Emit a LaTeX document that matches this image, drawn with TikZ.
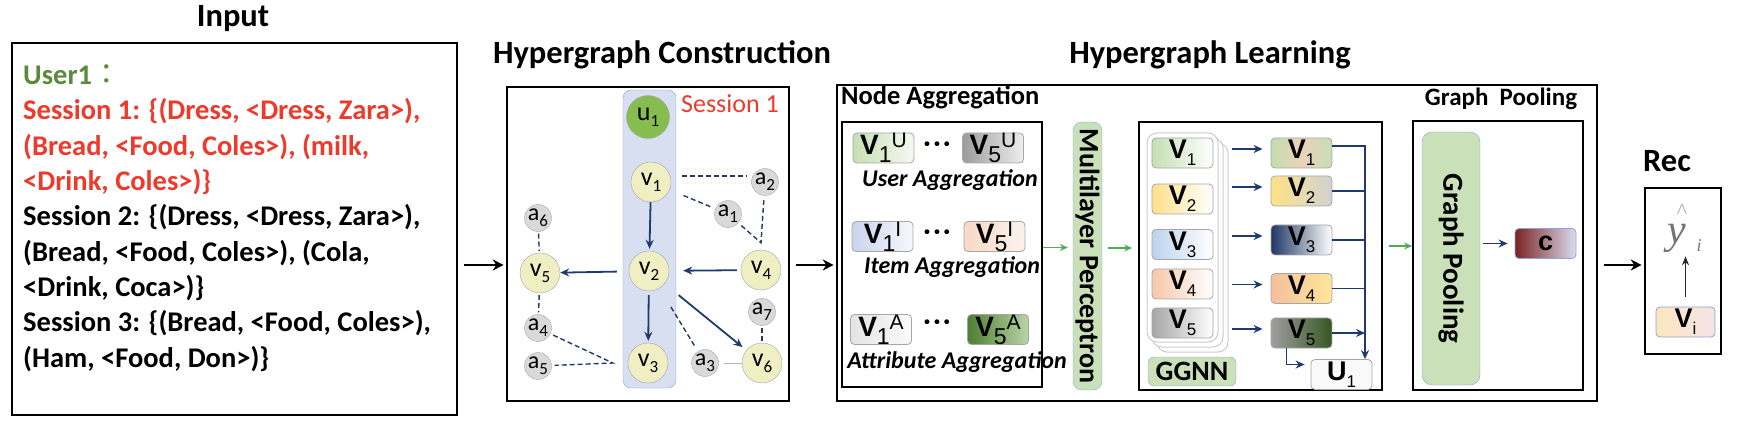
\documentclass[tikz,border=0pt]{standalone}
\usepackage{fontspec}
\setmainfont{Carlito}
\newfontfamily\chipfont{Liberation Sans}
\newfontfamily\serifit{Liberation Serif}
\newfontfamily\cjk{Noto Sans CJK TC}
\usetikzlibrary{arrows.meta, positioning}
\definecolor{navy}{HTML}{1F3A6E}
\definecolor{arrgreen}{HTML}{4DAF55}
\definecolor{sred}{HTML}{EC3A2D}
\definecolor{ugreen}{HTML}{5A8A3C}
\definecolor{ufill}{HTML}{86BC50}
\definecolor{mlpgreen}{HTML}{C9E0B8}
\definecolor{vfill}{HTML}{EFEFC3}
\definecolor{afill}{HTML}{D9D9D9}
\definecolor{sessblue}{HTML}{D7DFF1}
\definecolor{sessline}{HTML}{8FA6D0}
\newcommand{\px}[1]{\fontsize{#1}{#1}\selectfont}
\newcommand{\nlab}[2]{#1\raisebox{-6pt}{\px{17}#2}}
\newcommand{\vlab}[2]{{\chipfont\px{28}\bfseries V}\raisebox{-8pt}{\chipfont\px{23}#1}\raisebox{7pt}{\chipfont\px{21}#2}}
\newcommand{\glab}[2]{{\chipfont\px{27}\bfseries #1}\raisebox{-7pt}{\chipfont\px{17}#2}}
\tikzset{
  bigbox/.style = {draw, line width=2.6pt, inner sep=0pt},
  subbox/.style = {draw, line width=1.8pt, inner sep=0pt},
  heading/.style = {font=\px{32.5}\bfseries, inner sep=0pt, anchor=base},
  vnode/.style = {circle, draw=gray!70, fill=vfill, minimum size=40pt,
    inner sep=0pt, font=\px{26}},
  anode/.style = {circle, draw=gray!70, fill=afill, minimum size=27pt,
    inner sep=0pt, font=\px{24}},
  chip/.style = {draw=gray!70, line width=0.8pt, rounded corners=4pt,
    minimum width=61pt, minimum height=30pt, inner sep=0pt},
  slab/.style = {draw=sessline, fill=mlpgreen, rounded corners=9pt, inner sep=0pt},
  nav/.style = {navy, line width=1.8pt, -{Stealth[length=9pt, width=8pt]}},
  dsh/.style = {navy, line width=1.4pt, dash pattern=on 5pt off 3pt},
  grn/.style = {arrgreen, line width=1.8pt, -{Stealth[length=8pt, width=7pt]}},
  blk/.style = {black, line width=2.6pt, -{Stealth[length=11pt, width=11pt]}}
}
\begin{document}
\begin{tikzpicture}[x=1pt, y=-1pt]
\useasboundingbox (0,0) rectangle (1740,430);

\node[heading] (tIn) at (233,27) {Input};
\node[heading] (tHc) at (662,64) {Hypergraph Construction};
\node[heading] (tHl) at (1210,64) {Hypergraph Learning};
\node[heading] (tRec) at (1667,172) {Rec};

\node[bigbox, minimum width=445pt, minimum height=372pt] (inBox) at (234.5,229) {};
\node[anchor=base west, align=left, inner sep=0pt,
  font=\fontsize{28.5}{35.3}\selectfont\bfseries] (inText) at (23,367)
  {\textcolor{ugreen}{User1{\cjk\mdseries ：}}\\
   \textcolor{sred}{Session 1: \{(Dress, <Dress, Zara>),}\\
   \textcolor{sred}{(Bread, <Food, Coles>), (milk,}\\
   \textcolor{sred}{<Drink, Coles>)\}}\\
   Session 2: \{(Dress, <Dress, Zara>),\\
   (Bread, <Food, Coles>), (Cola,\\
   <Drink, Coca>)\}\\
   Session 3: \{(Bread, <Food, Coles>),\\
   (Ham, <Food, Don>)\}};

\node[bigbox, minimum width=282pt, minimum height=314pt] (hcBox) at (648,244) {};
\node[draw=sessline, fill=sessblue, rounded corners=8pt, minimum width=53pt,
  minimum height=298pt] (sess) at (649.5,239) {};
\node[text=sred, font=\px{26}, anchor=base, inner sep=0pt] (sessLab) at (730,113) {Session 1};
\node[vnode, fill=ufill, minimum size=43pt] (u1) at (648,117) {\nlab{u}{1}};
\node[vnode] (v1) at (651,182) {\nlab{v}{1}};
\node[vnode] (v2) at (649,271) {\nlab{v}{2}};
\node[vnode] (v3) at (648,363) {\nlab{v}{3}};
\node[vnode] (v4) at (761,270) {\nlab{v}{4}};
\node[vnode] (v5) at (540,273) {\nlab{v}{5}};
\node[vnode] (v6) at (762,363) {\nlab{v}{6}};
\node[anode] (a1) at (728,214) {\nlab{a}{1}};
\node[anode] (a2) at (765,182) {\nlab{a}{2}};
\node[anode] (a3) at (705,363) {\nlab{a}{3}};
\node[anode] (a4) at (538,328) {\nlab{a}{4}};
\node[anode] (a5) at (538,366) {\nlab{a}{5}};
\node[anode] (a6) at (538,218) {\nlab{a}{6}};
\node[anode] (a7) at (762,312) {\nlab{a}{7}};
\draw[nav, shorten >=2pt] (v1) -- (v2);
\draw[nav, shorten <=4pt, shorten >=2pt] (v2) -- (v3);
\draw[nav, shorten <=4pt, shorten >=14pt] (v4) -- (v2);
\draw[nav, shorten <=12pt] (v2) -- (v5);
\draw[nav, shorten <=18pt, shorten >=5pt] (v2) -- (v6);
\draw[dsh, shorten <=22pt, shorten >=6pt] (v2) -- (a3);
\draw[dsh, shorten <=11pt, shorten >=5pt] ([yshift=6pt]v1.east) -- ([yshift=6pt]a2.west);
\draw[dsh, shorten <=15pt, shorten >=4pt] (v1) -- (a1);
\draw[dsh, shorten <=4pt, shorten >=2pt] (a1) -- ([yshift=7pt]v4.north) -- (a2);
\draw[dsh, shorten <=3pt, shorten >=3pt] (a4) -- ([xshift=-15pt]v3.west) -- (a5);
\draw[dsh, shorten <=2pt, shorten >=2pt] (a6) -- (v5);
\draw[dsh, shorten <=2pt, shorten >=2pt] (v5) -- (a4);
\draw[dsh, shorten <=2pt, shorten >=2pt] (a7) -- (v6);
\draw[gray!60, line width=0.6pt, shorten <=5pt] (a3) -- (v6);

\node[bigbox, minimum width=760pt, minimum height=316pt] (hlBox) at (1217,243) {};
\node[font=\px{26.5}\bfseries, anchor=base west, inner sep=0pt] (naLab) at (841,105) {Node Aggregation};
\node[subbox, minimum width=200pt, minimum height=265pt] (naBox) at (942,254.5) {};
\foreach \n/\x/\y/\s/\t/\l/\r in {
  uA/883.5/148/1/U/C6DFB4/F5F9F1, uB/993/148/5/U/9C9C9C/EEEEEE,
  iA/882.5/236.5/1/I/C8D4EE/F6F8FC, iB/994.5/236.5/5/I/F8D9C4/FBF3EE,
  tA/881/329.5/1/A/E4E4E4/FAFAFA, tB/998/329.5/5/A/4E7E32/B9D4A6}{
  \definecolor{lc}{HTML}{\l}\definecolor{rc}{HTML}{\r}
  \node[chip, left color=lc, right color=rc] (\n) at (\x,\y) {\vlab{\s}{\t}};
}
\foreach \y in {147,235,325}
  \node[font=\px{26}\bfseries] at (937,\y) {·\hspace{3pt}·\hspace{3pt}·};
\node[font=\px{24}\bfseries\itshape] (uAgg) at (950,180) {User Aggregation};
\node[font=\px{24}\bfseries\itshape] (iAgg) at (952,267) {Item Aggregation};
\node[font=\px{24}\bfseries\itshape] (aAgg) at (957,362) {Attribute Aggregation};

\node[slab, minimum width=29pt, minimum height=268pt] (mlp) at (1087.5,256) {};
\node[rotate=-90, font=\px{28}\bfseries, inner sep=0pt] (mlpLab) at (mlp) {Multilayer Perceptron};
\draw[grn, shorten >=5pt] ([yshift=7pt]naBox.east) -- ([yshift=7pt]naBox.east -| mlp.west);

\node[subbox, minimum width=243pt, minimum height=268pt] (ggBox) at (1260.5,256) {};
\draw[grn, shorten <=6pt, shorten >=6pt] ([yshift=8pt]mlp.east) -- ([yshift=8pt]mlp.east -| ggBox.west);
\foreach \d in {10,5,0}
  \node[draw=gray!40, fill=white, line width=1pt, rounded corners=10pt, minimum width=71pt,
    minimum height=209pt] (card\d) at ({1182.5+\d},{237.5+\d}) {};
\foreach \i/\y/\l in {1/153/C6DFB4, 2/199/FFE08A, 3/244.5/BDD2EC, 4/284/F6C8AA, 5/323/A6A6A6}{
  \definecolor{lc}{HTML}{\l}
  \node[chip, left color=lc, right color=white] (ggL\i) at (1182.5,\y) {\glab{V}{\i}};
}
\foreach \i/\y/\l/\m/\r in {1/153/C3DDAF/EAD2BA/C6DEB6, 2/191/FFE183/E8DCB0/D0D0D0,
  3/240/1F3864/8F9BB2/FFFFFF, 4/288.5/F4C09D/F9D39B/FFE699, 5/333/9E9E9E/6B7A60/375623}{
  \definecolor{lc}{HTML}{\l}\definecolor{mc}{HTML}{\m}\definecolor{rc}{HTML}{\r}
  \node[chip, left color=lc, right color=rc, middle color=mc] (ggR\i) at (1301.5,\y) {\glab{V}{\i}};
  \draw[nav, shorten <=19pt, shorten >=8pt] ([yshift=4pt]ggR\i.west -| ggL\i.east) -- ([yshift=4pt]ggR\i.west);
}
\node[slab, minimum width=88pt, minimum height=29pt, rounded corners=6pt,
  font=\px{28}\bfseries] (ggLab) at (1192,371.5) {GGNN};
\node[chip, fill=gray!5] (uvec) at (1341.5,374.5) {\glab{U}{1}};
\coordinate (bus) at (1365,146);
\draw[nav] ([yshift=7pt]ggR1.east) -| (bus |- uvec.north);
\foreach \i in {2,3,4}
  \draw[navy, line width=1.8pt] (ggR\i.east) -- (ggR\i.east -| bus);
\draw[nav] (ggR5.east) -- (ggR5.east -| bus);
\draw[nav, shorten >=6pt] ([xshift=-15pt]ggR5.south) |- ([yshift=10pt]uvec.west);

\node[subbox, minimum width=170pt, minimum height=269pt] (gpBox) at (1498,255.5) {};
\node[font=\px{25}\bfseries, anchor=base, inner sep=0pt] (gpTitle) at (1501,106) {Graph\ \ Pooling};
\draw[grn, shorten <=6pt] ([yshift=10pt]ggBox.east) -- ([yshift=10pt]ggBox.east -| gpBox.west);
\node[slab, minimum width=58pt, minimum height=253pt, rounded corners=10pt] (gpool) at (1451,258.5) {};
\node[rotate=-90, font=\px{29}\bfseries, inner sep=0pt] (gpLab) at (gpool) {Graph Pooling};
\definecolor{lc}{HTML}{7B2323}\definecolor{rc}{HTML}{D9DDF0}
\node[chip, draw=sessline, left color=lc, right color=rc, font=\chipfont\px{27}\bfseries] (cvec) at (1545.5,243.5) {c};
\draw[nav, shorten <=3pt, shorten >=7pt] (gpool.east |- cvec.west) -- (cvec.west);

\node[bigbox, minimum width=76pt, minimum height=166pt] (recBox) at (1683,271) {};
\node[text=gray!90!black, font=\serifit\itshape\px{42}, anchor=base, inner sep=0pt] (yhat) at (1677,244) {y};
\node[text=gray!70, font=\serifit\px{22}, inner sep=0pt] (hat) at (1682,211) {\textasciicircum};
\node[text=gray!90!black, font=\serifit\itshape\px{18}, anchor=base, inner sep=0pt] (yi) at (1699,252) {i};
\definecolor{lc}{HTML}{FCE6C0}\definecolor{rc}{HTML}{F5E4E8}
\node[chip, draw=sessline, minimum width=59pt, left color=lc, right color=rc] (vi) at (1685.5,322) {\glab{V}{i}};
\draw[gray!30!black, line width=1.8pt, -{Stealth[length=9pt, width=7pt]}, shorten <=10pt, shorten >=3pt]
  (vi.north) -- (vi.north |- yhat.south);

\draw[blk, shorten <=6pt, shorten >=2pt] ([yshift=-36pt]inBox.east) -- ([yshift=-36pt]inBox.east -| hcBox.west);
\draw[blk, shorten <=6pt, shorten >=2pt] ([yshift=-21pt]hcBox.east) -- ([yshift=-21pt]hcBox.east -| hlBox.west);
\draw[blk, shorten <=6pt, shorten >=2pt] ([yshift=-22pt]hlBox.east) -- ([yshift=-22pt]hlBox.east -| recBox.west);
\end{tikzpicture}
\end{document}
